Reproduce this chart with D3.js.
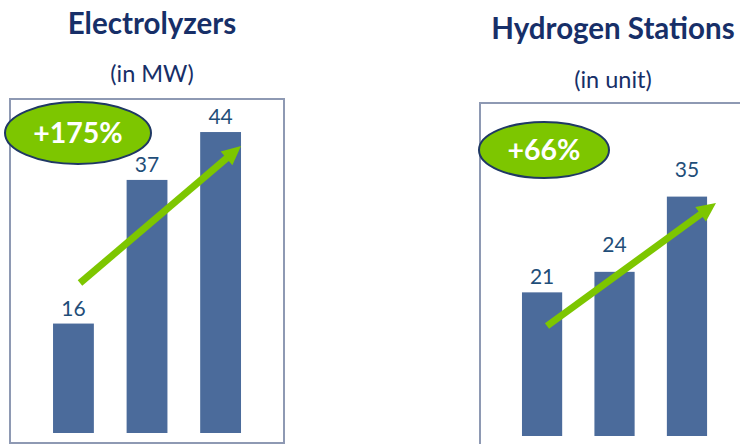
<!DOCTYPE html>
<html lang="en">
<head>
    <meta charset="UTF-8">
    <script src="https://d3js.org/d3.v7.min.js"></script>
    <style>
        body { margin: 0; background: #fff; }
        text { font-family: Lato, "Open Sans", sans-serif; }
    </style>
</head>
<body>
    <svg id="chart" width="740" height="444"></svg>
    <script>
        // data
        const periods = ["Year 1", "Year 2", "Year 3"];
        const electrolyzerValues = [16, 37, 44];
        const stationValues = [21, 24, 35];
        const titles = ["Electrolyzers", "Hydrogen Stations"];
        const units = ["(in MW)", "(in unit)"];
        const growthLabels = ["+175%", "+66%"];

        const width = 740, height = 444;
        const barColor = "#4b6b9b";
        const green = "#7dc600";
        const navy = "#172f68";

        const svg = d3.select("#chart")
            .attr("width", width)
            .attr("height", height);

        // layout for each panel
        const panels = [
            {
                values: electrolyzerValues, title: titles[0], unit: units[0], growth: growthLabels[0],
                cx: 152, titleY: 34, unitY: 82,
                box: { x: 10, y: 99, w: 274, h: 344 },
                xRange: [16.25, 277.8], yBase: 433,
                ellipse: { cx: 78, cy: 133, rx: 73, ry: 31 },
                arrow: [[80, 283], [241, 146]],
                lift: [8, 8, 8]
            },
            {
                values: stationValues, title: titles[1], unit: units[1], growth: growthLabels[1],
                cx: 613, titleY: 39, unitY: 88,
                box: { x: 480, y: 103, w: 300, h: 360 },
                xRange: [485.75, 743.3], yBase: 436,
                ellipse: { cx: 544, cy: 150, rx: 65, ry: 28 },
                arrow: [[547, 326], [716, 203]],
                lift: [8, 20, 20]
            }
        ];

        panels.forEach((p, i) => {
            const g = svg.append("g");

            g.append("text")
                .attr("x", p.cx)
                .attr("y", p.titleY)
                .attr("text-anchor", "middle")
                .style("font-size", "29.5px")
                .style("font-weight", "bold")
                .attr("fill", navy)
                .text(p.title);

            g.append("text")
                .attr("x", p.cx)
                .attr("y", p.unitY)
                .attr("text-anchor", "middle")
                .style("font-size", "23.5px")
                .attr("fill", navy)
                .text(p.unit);

            g.append("rect")
                .attr("x", p.box.x)
                .attr("y", p.box.y)
                .attr("width", p.box.w)
                .attr("height", p.box.h)
                .attr("fill", "none")
                .attr("stroke", "#8e99b3")
                .attr("stroke-width", 2);

            const x = d3.scaleBand()
                .domain(periods)
                .range(p.xRange)
                .paddingInner(0.445)
                .paddingOuter(0.5);

            const y = d3.scaleLinear()
                .domain([0, 50])
                .range([p.yBase, p.yBase - 50 * 6.84]);

            g.selectAll(".bar")
                .data(p.values)
                .enter().append("rect")
                .attr("class", "bar")
                .attr("x", (d, j) => x(periods[j]))
                .attr("y", d => y(d))
                .attr("width", x.bandwidth())
                .attr("height", d => y(0) - y(d))
                .attr("fill", barColor);

            g.selectAll(".label")
                .data(p.values)
                .enter().append("text")
                .attr("class", "label")
                .attr("x", (d, j) => x(periods[j]) + x.bandwidth() / 2)
                .attr("y", (d, j) => y(d) - p.lift[j])
                .attr("text-anchor", "middle")
                .style("font-size", "21px")
                .attr("fill", "#1f4e79")
                .text(d => d);

            // growth arrow
            const [a, b] = p.arrow;
            const ang = Math.atan2(b[1] - a[1], b[0] - a[0]);
            const headLen = 19, headW = 9;
            const baseX = b[0] - headLen * Math.cos(ang), baseY = b[1] - headLen * Math.sin(ang);
            g.append("line")
                .attr("x1", a[0]).attr("y1", a[1])
                .attr("x2", baseX + 2 * Math.cos(ang)).attr("y2", baseY + 2 * Math.sin(ang))
                .attr("stroke", green)
                .attr("stroke-width", 7);
            const nx = -Math.sin(ang), ny = Math.cos(ang);
            g.append("path")
                .attr("d", d3.line()([
                    b,
                    [baseX + nx * headW, baseY + ny * headW],
                    [baseX - nx * headW, baseY - ny * headW]
                ]) + "Z")
                .attr("fill", green);

            g.append("ellipse")
                .attr("cx", p.ellipse.cx)
                .attr("cy", p.ellipse.cy)
                .attr("rx", p.ellipse.rx)
                .attr("ry", p.ellipse.ry)
                .attr("fill", green)
                .attr("stroke", "#1f3864")
                .attr("stroke-width", 2);

            g.append("text")
                .attr("x", p.ellipse.cx)
                .attr("y", p.ellipse.cy + 10)
                .attr("text-anchor", "middle")
                .style("font-size", "28.5px")
                .style("font-weight", "bold")
                .attr("fill", "#fff")
                .text(p.growth);
        });
    </script>
</body>
</html>
